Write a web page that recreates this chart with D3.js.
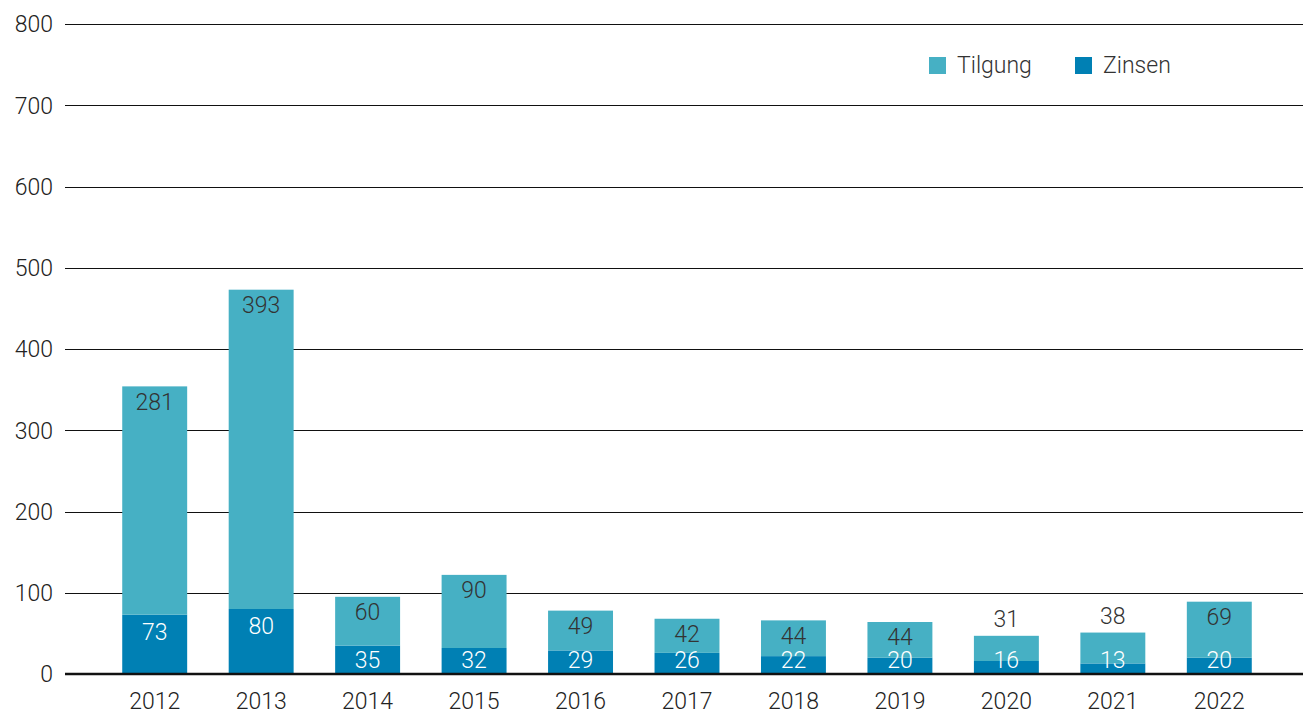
<!DOCTYPE html>
<html><head><meta charset="utf-8">
<script src="https://cdn.jsdelivr.net/npm/d3@7"></script>
<style>
html,body{margin:0;padding:0;background:#fff;}
svg{display:block;font-family:Roboto,"Liberation Sans",sans-serif;}
</style></head>
<body>
<svg id="c" width="1303" height="713"></svg>
<script>
const years = ["2012","2013","2014","2015","2016","2017","2018","2019","2020","2021","2022"];
const zinsen = [73,80,35,32,29,26,22,20,16,13,20];
const tilgung = [281,393,60,90,49,42,44,44,31,38,69];
const yTicks = [0,100,200,300,400,500,600,700,800];
const seriesNames = ["Tilgung","Zinsen"];
const colors = {Tilgung:"#46b0c4", Zinsen:"#0080b4"};

const svg = d3.select("#c");
const x = d3.scaleBand().domain(years).range([69,1305]).paddingInner(0.39).paddingOuter(0.5);
const y = d3.scaleLinear().domain([0,800]).range([674,24]);
const FS = 23;

// gridlines
svg.append("g").selectAll("line").data(yTicks.filter(d=>d>0)).join("line")
  .attr("x1",65).attr("x2",1303).attr("y1",d=>Math.round(y(d))+0.5).attr("y2",d=>Math.round(y(d))+0.5)
  .attr("stroke","#111").attr("stroke-width",1);

// y labels
svg.append("g").selectAll("text").data(yTicks).join("text")
  .attr("x",53).attr("y",d=>y(d)).attr("dy","0.36em").attr("text-anchor","end")
  .attr("font-size",FS).attr("fill","#222").attr("font-weight",300).text(d=>d);

const data = years.map((yr,i)=>({yr, z:zinsen[i], t:tilgung[i]}));

const bars = svg.append("g");
bars.selectAll("rect.z").data(data).join("rect").attr("class","z")
  .attr("x",d=>x(d.yr)).attr("width",x.bandwidth())
  .attr("y",d=>y(d.z)).attr("height",d=>y(0)-y(d.z)).attr("fill",colors.Zinsen);
bars.selectAll("rect.t").data(data).join("rect").attr("class","t")
  .attr("x",d=>x(d.yr)).attr("width",x.bandwidth())
  .attr("y",d=>y(d.z+d.t)).attr("height",d=>y(d.z)-y(d.z+d.t)).attr("fill",colors.Tilgung);

// baseline
svg.append("line").attr("x1",65).attr("x2",1303).attr("y1",y(0)).attr("y2",y(0))
  .attr("stroke","#111").attr("stroke-width",2.5);

// labels
const lab = svg.append("g").attr("font-size",FS).attr("text-anchor","middle").attr("font-weight",300);
lab.selectAll("text.z").data(data).join("text").attr("class","z")
  .attr("x",d=>x(d.yr)+x.bandwidth()/2)
  .attr("y",d=>Math.min(y(d.z)+17, y(0)-14)).attr("dy","0.36em")
  .attr("fill","#fff").text(d=>d.z);
lab.selectAll("text.t").data(data).join("text").attr("class","t")
  .attr("x",d=>x(d.yr)+x.bandwidth()/2)
  .attr("y",d=>d.t<40 ? y(d.z+d.t)-17 : y(d.z+d.t)+15).attr("dy","0.36em")
  .attr("fill","#333").text(d=>d.t);

// x labels
svg.append("g").selectAll("text").data(years).join("text")
  .attr("x",d=>x(d)+x.bandwidth()/2).attr("y",701).attr("dy","0.36em")
  .attr("text-anchor","middle").attr("font-size",FS).attr("fill","#222").attr("font-weight",300).text(d=>d);

// legend
const leg = svg.append("g");
const legX = [929,1075];
seriesNames.forEach((n,i)=>{
  leg.append("rect").attr("x",legX[i]).attr("y",57).attr("width",17).attr("height",17).attr("fill",colors[n]);
  leg.append("text").attr("x",legX[i]+28).attr("y",65).attr("dy","0.36em")
    .attr("font-size",FS).attr("fill","#333").attr("font-weight",300).text(n);
});
</script>
</body></html>
